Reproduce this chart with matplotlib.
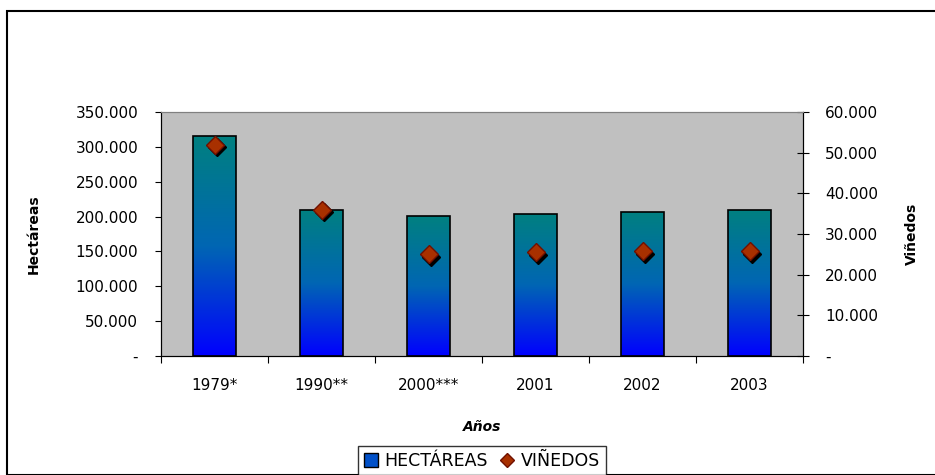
import numpy as np
import matplotlib
matplotlib.use("Agg")
import matplotlib.pyplot as plt
import matplotlib.transforms as mtransforms
from matplotlib.colors import LinearSegmentedColormap
from matplotlib.patches import Rectangle
from matplotlib.lines import Line2D
from matplotlib.ticker import FuncFormatter

plt.rcParams.update({'font.family': 'DejaVu Sans', 'font.size': 11})

years     = ['1979*', '1990**', '2000***', '2001', '2002', '2003']
hectareas = [315000, 210000, 200500, 204000, 207000, 209500]
vinedos   = [52000, 36000, 25000, 25500, 25800, 25800]

def fmt_miles(v, pos):
    if v == 0:
        return '-'
    return f"{int(v):,}".replace(",", ".")

fig = plt.figure(figsize=(9.35, 4.75), dpi=100)
# outer chart frame
fig.patches.append(Rectangle((7/935, 0), 2.0, 1 - 11/475, transform=fig.transFigure,
                             fill=False, edgecolor='black', linewidth=1.5))

ax = fig.add_axes([161/935, 1 - 356/475, 642/935, 244/475])
ax.set_facecolor('#c0c0c0')
x = np.arange(len(years))
width = 0.4

###
### Gradient bars
###
cmap = LinearSegmentedColormap.from_list('grad', ['#0000ff', '#0066b3', '#008080'])
grad = np.linspace(0, 1, 256).reshape(-1, 1)
bars = ax.bar(x, hectareas, width=width, facecolor='none', edgecolor='black',
              linewidth=1.2, zorder=3)
for b in bars:
    x0, h = b.get_x(), b.get_height()
    im = ax.imshow(grad, cmap=cmap, origin='lower', aspect='auto',
                   extent=[x0, x0 + width, 0, h], zorder=2)
    im.set_clip_path(b)

ax.set_xlim(-0.5, len(years) - 0.5)
ax.set_ylim(0, 350000)
ax.set_yticks(np.arange(0, 350001, 50000))
ax.yaxis.set_major_formatter(FuncFormatter(fmt_miles))
ax.set_xticks(np.arange(-0.5, len(years), 1.0), minor=False)
ax.set_xticklabels([])
ax.set_xticks(x, minor=True)
ax.set_xticklabels(years, minor=True)
ax.tick_params(axis='x', which='minor', length=0, pad=16)
ax.tick_params(axis='x', which='major', length=5, direction='out')
ax.tick_params(axis='y', length=4.5, direction='out', pad=12)
ax.spines['top'].set_color('#808080')
ax.set_ylabel('Hectáreas', fontsize=10, fontweight='bold', labelpad=25)
ax.set_xlabel('Años', fontsize=10, fontweight='bold', style='italic', labelpad=19)

###
### Secondary axis: viñedos
###
ax2 = ax.twinx()
ax2.set_ylim(0, 60000)
ax2.set_yticks(np.arange(0, 60001, 10000))
ax2.yaxis.set_major_formatter(FuncFormatter(fmt_miles))
ax2.tick_params(axis='y', length=9, direction='inout', pad=11.5)
ax2.spines['top'].set_color('#808080')
shadow = mtransforms.offset_copy(ax2.transData, fig=fig, x=2.5, y=-2.5, units='dots')
ax2.plot(x, vinedos, linestyle='none', marker='D', markersize=9.5,
         color='black', transform=shadow, zorder=4)
ax2.plot(x, vinedos, linestyle='none', marker='D', markersize=9.5,
         markerfacecolor='#a83000', markeredgecolor='#701000', zorder=5)
ax2.set_ylabel('Viñedos', fontsize=10, fontweight='bold', labelpad=19)

###
### Legend
###
handles = [Rectangle((0, 0), 1, 1, facecolor='#0050c8', edgecolor='black'),
           Line2D([], [], linestyle='none', marker='D', markersize=7,
                  markerfacecolor='#a83000', markeredgecolor='#701000')]
fig.legend(handles, ['HECTÁREAS', 'VIÑEDOS'], loc='center',
           bbox_to_anchor=(482/935, 1 - 461/475), ncol=2, frameon=True,
           fancybox=False, edgecolor='black', handlelength=0.8, handleheight=0.8,
           handletextpad=0.4, columnspacing=0.7, borderpad=0.35, fontsize=12.5)

plt.savefig('out.png', dpi=100)
